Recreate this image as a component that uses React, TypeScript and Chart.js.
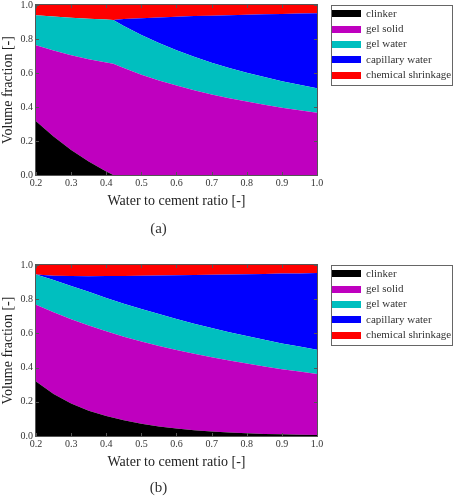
import React, { useEffect, useRef } from "react";
import { Chart, registerables } from "chart.js";

Chart.register(...registerables);

// Water-to-cement ratios
const wcA = [0.2, 0.25, 0.3, 0.35, 0.4, 0.42, 0.45, 0.5, 0.55, 0.6, 0.65, 0.7, 0.75, 0.8, 0.85, 0.9, 0.95, 1.0];
const wcB = [0.2, 0.25, 0.3, 0.35, 0.4, 0.45, 0.5, 0.55, 0.6, 0.65, 0.7, 0.75, 0.8, 0.85, 0.9, 0.95, 1.0];

// (a) volume fractions of each phase
const clinkerA = [0.316, 0.226, 0.147, 0.079, 0.021, 0, 0, 0, 0, 0, 0, 0, 0, 0, 0, 0, 0, 0];
const gelSolidA = [0.447, 0.506, 0.558, 0.602, 0.641, 0.654, 0.629, 0.59, 0.556, 0.526, 0.499, 0.474, 0.452, 0.432, 0.413, 0.396, 0.381, 0.366];
const gelWaterA = [0.177, 0.2, 0.22, 0.238, 0.253, 0.258, 0.248, 0.233, 0.22, 0.208, 0.197, 0.187, 0.178, 0.17, 0.163, 0.156, 0.15, 0.145];
const capWaterA = [0, 0, 0, 0, 0, 0, 0.04, 0.099, 0.151, 0.197, 0.239, 0.276, 0.31, 0.341, 0.369, 0.395, 0.419, 0.441];
const shrinkA = [0.06, 0.068, 0.075, 0.081, 0.085, 0.088, 0.083, 0.078, 0.073, 0.069, 0.065, 0.063, 0.06, 0.057, 0.055, 0.053, 0.05, 0.048];

// (b) volume fractions of each phase
const clinkerB = [0.318, 0.245, 0.19, 0.148, 0.117, 0.092, 0.072, 0.056, 0.044, 0.034, 0.027, 0.021, 0.016, 0.012, 0.01, 0.008, 0.006];
const gelSolidB = [0.449, 0.478, 0.493, 0.498, 0.495, 0.489, 0.481, 0.471, 0.459, 0.447, 0.433, 0.42, 0.408, 0.395, 0.381, 0.369, 0.357];
const gelWaterB = [0.177, 0.189, 0.194, 0.197, 0.195, 0.193, 0.19, 0.186, 0.181, 0.176, 0.171, 0.166, 0.161, 0.156, 0.15, 0.146, 0.141];
const capWaterB = [0, 0.025, 0.058, 0.091, 0.128, 0.162, 0.194, 0.225, 0.256, 0.284, 0.312, 0.338, 0.361, 0.385, 0.409, 0.428, 0.449];
const shrinkB = [0.056, 0.063, 0.065, 0.066, 0.065, 0.064, 0.063, 0.062, 0.06, 0.059, 0.057, 0.055, 0.054, 0.052, 0.05, 0.049, 0.047];

const phaseLabels = ["clinker", "gel solid", "gel water", "capillary water", "chemical shrinkage"];
const phaseColors = ["#000000", "#bf00bf", "#00bfbf", "#0000ff", "#ff0000"];

const xTicks = [0.2, 0.3, 0.4, 0.5, 0.6, 0.7, 0.8, 0.9, 1.0];
const yTicks = [0, 0.2, 0.4, 0.6, 0.8, 1.0];

const SERIF = '"Liberation Serif", "Times New Roman", serif';

// Plot frame plus short inward tick marks on all four sides
const frameTicks = {
  id: "frameTicks",
  afterDatasetsDraw(chart: any) {
    const { ctx, chartArea: a, scales } = chart;
    const L = 3;
    ctx.save();
    ctx.strokeStyle = "#555";
    ctx.lineWidth = 1;
    ctx.beginPath();
    for (const t of scales.x.ticks) {
      const px = Math.round(scales.x.getPixelForValue(t.value)) + 0.5;
      ctx.moveTo(px, a.bottom);
      ctx.lineTo(px, a.bottom - L);
      ctx.moveTo(px, a.top);
      ctx.lineTo(px, a.top + L);
    }
    for (const t of scales.y.ticks) {
      const py = Math.round(scales.y.getPixelForValue(t.value)) + 0.5;
      ctx.moveTo(a.left, py);
      ctx.lineTo(a.left + L, py);
      ctx.moveTo(a.right, py);
      ctx.lineTo(a.right - L, py);
    }
    ctx.stroke();
    ctx.strokeRect(a.left - 0.5, a.top - 0.5, a.right - a.left + 1, a.bottom - a.top + 1);
    ctx.restore();
  },
};

// Boxed legend to the right of the plot
const boxedLegend = {
  id: "boxedLegend",
  afterDraw(chart: any) {
    const { ctx, chartArea: a } = chart;
    const left = a.right + 14;
    const top = a.top;
    ctx.save();
    ctx.strokeStyle = "#666";
    ctx.lineWidth = 1;
    ctx.strokeRect(left + 0.5, Math.round(top) + 0.5, 121, 80);
    ctx.font = `11px ${SERIF}`;
    ctx.textBaseline = "middle";
    ctx.textAlign = "left";
    chart.data.datasets.forEach((ds: any, i: number) => {
      const cy = top + 8.8 + i * 15.3;
      ctx.fillStyle = ds.backgroundColor;
      ctx.fillRect(left + 1, Math.round(cy - 3.5), 29, 7);
      ctx.fillStyle = "#333";
      ctx.fillText(ds.label, left + 35, cy);
    });
    ctx.restore();
  },
};

type Geo = {
  padTop: number;
  xScaleHeight: number;
  xTitlePadBottom: number;
  capPadTop: number;
  capPadBottom: number;
};

function StackedPhases({
  xs,
  series,
  caption,
  geo,
}: {
  xs: number[];
  series: number[][];
  caption: string;
  geo: Geo;
}) {
  const ref = useRef<HTMLCanvasElement>(null);

  useEffect(() => {
    const datasets = series.map((vals, i) => ({
      label: phaseLabels[i],
      data: xs.map((x, j) => ({ x, y: vals[j] })),
      backgroundColor: phaseColors[i],
      borderColor: phaseColors[i],
      borderWidth: 0,
      pointRadius: 0,
      tension: 0,
      fill: i === 0 ? "origin" : "-1",
    }));

    const chart = new Chart(ref.current as HTMLCanvasElement, {
      type: "line",
      data: { datasets },
      plugins: [frameTicks, boxedLegend],
      options: {
        animation: false,
        responsive: false,
        events: [],
        layout: { padding: { top: geo.padTop, left: 0, right: 140, bottom: 0 } },
        plugins: {
          legend: { display: false },
          tooltip: { enabled: false },
          title: {
            display: true,
            position: "bottom",
            text: caption,
            color: "#333",
            font: { family: SERIF, size: 15, weight: "normal" },
            padding: { top: geo.capPadTop, bottom: geo.capPadBottom },
          },
        },
        scales: {
          x: {
            type: "linear",
            min: 0.2,
            max: 1.0,
            grid: { display: false, drawTicks: false },
            border: { display: false },
            afterBuildTicks: (s: any) => {
              s.ticks = xTicks.map((v) => ({ value: v }));
            },
            afterFit: (s: any) => {
              s.height = geo.xScaleHeight;
              s.paddingLeft = 0;
              s.paddingRight = 0;
            },
            ticks: {
              padding: 2,
              color: "#333",
              font: { family: SERIF, size: 10 },
              callback: (v: any) => Number(v).toFixed(1),
            },
            title: {
              display: true,
              text: "Water to cement ratio [-]",
              color: "#222",
              font: { family: SERIF, size: 14 },
              padding: { top: 0, bottom: geo.xTitlePadBottom },
            },
          },
          y: {
            type: "linear",
            stacked: true,
            min: 0,
            max: 1,
            grid: { display: false, drawTicks: false },
            border: { display: false },
            afterBuildTicks: (s: any) => {
              s.ticks = yTicks.map((v) => ({ value: v }));
            },
            afterFit: (s: any) => {
              s.width = 36;
              s.paddingTop = 0;
              s.paddingBottom = 0;
            },
            ticks: {
              padding: 3,
              color: "#333",
              font: { family: SERIF, size: 10, lineHeight: 1 },
              callback: (v: any) => Number(v).toFixed(1),
            },
            title: {
              display: true,
              text: "Volume fraction [-]",
              color: "#222",
              font: { family: SERIF, size: 14 },
              padding: { top: 0, bottom: 0 },
            },
          },
        },
      } as any,
    });
    return () => chart.destroy();
  }, []);

  return <canvas ref={ref} width={457} height={251} style={{ display: "block" }} />;
}

export default function App() {
  return (
    <div style={{ position: "absolute", left: 0, top: 0, width: 457, height: 502, background: "#fff" }}>
      <StackedPhases
        xs={wcA}
        series={[clinkerA, gelSolidA, gelWaterA, capWaterA, shrinkA]}
        caption="(a)"
        geo={{ padTop: 5, xScaleHeight: 41, xTitlePadBottom: 6, capPadTop: 4, capPadBottom: 13 }}
      />
      <StackedPhases
        xs={wcB}
        series={[clinkerB, gelSolidB, gelWaterB, capWaterB, shrinkB]}
        caption="(b)"
        geo={{ padTop: 14, xScaleHeight: 39, xTitlePadBottom: 4, capPadTop: 4, capPadBottom: 5 }}
      />
    </div>
  );
}
